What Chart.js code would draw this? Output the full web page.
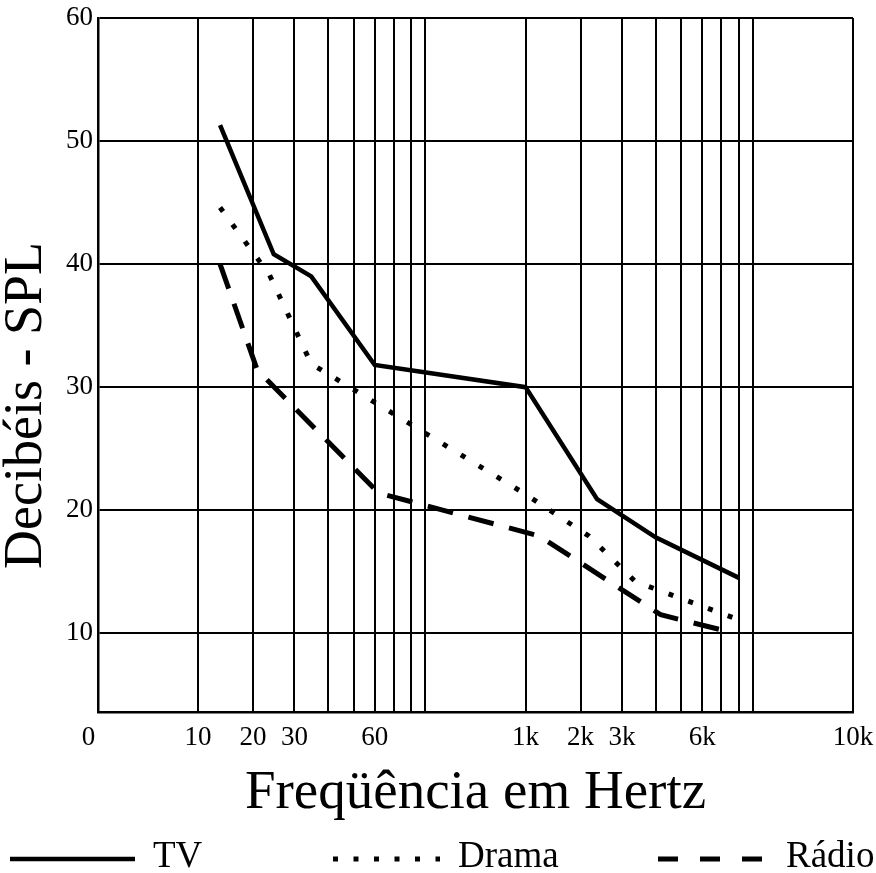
<!DOCTYPE html>
<html>
<head>
<meta charset="utf-8">
<title>Decibéis x Freqüência</title>
<script src="https://cdn.jsdelivr.net/npm/chart.js@4.4.1/dist/chart.umd.min.js"></script>
<style>
  html, body { margin: 0; padding: 0; background: #fff; }
  #wrap { width: 876px; height: 873px; }
</style>
</head>
<body>
<div id="wrap"><canvas id="chart"></canvas></div>
<script>
// frequency in Hz, level in dB SPL
const freqTV = [14, 25, 35, 60, 1000, 2400, 4000, 8000];
const dbTV = [51.3, 40.8, 39.0, 31.8, 30.0, 20.9, 17.8, 14.5];

const freqDrama = [14, 24, 35, 1000, 2200, 3400, 8000];
const dbDrama = [44.6, 39.1, 31.9, 21.3, 17.9, 14.2, 11.1];

const freqRadio = [14, 21, 62, 1250, 4200, 7500];
const dbRadio = [40.0, 31.4, 21.4, 17.9, 11.5, 10.1];

const seriesNames = ['TV', 'Drama', 'Rádio'];

// vertical grid lines (Hz) and the ones that carry a label
const xGrid = [0, 10, 20, 30, 40, 50, 60, 70, 80, 90, 1000, 2000, 3000, 4000, 5000, 6000, 7000, 8000, 9000, 10000];
const xLabeled = [0, 10, 20, 30, 60, 1000, 2000, 3000, 6000, 10000];
const xLabelText = ['0', '10', '20', '30', '60', '1k', '2k', '3k', '6k', '10k'];
const yGrid = [10, 20, 30, 40, 50, 60];

// the printed axis isn't a real log scale: both decades use the same drawn spacing,
// with an equal gap before 10, between 90 and 1k, and after 9k
const decadeSpacing = [0, 55, 96.3, 130, 155.6, 176.6, 195.6, 213.3, 227.3];
const gapWidth = 100;
const warpKnots = [[0, 0]];
[10, 1000].forEach((base, d) => {
    const start = gapWidth * (d + 1) + decadeSpacing[8] * d;
    decadeSpacing.forEach((off, k) => warpKnots.push([base * (k + 1), start + off]));
});
warpKnots.push([10000, warpKnots[warpKnots.length - 1][1] + gapWidth]);

function warp(v) {
    for (let i = 1; i < warpKnots.length; i++) {
        const [f0, p0] = warpKnots[i - 1], [f1, p1] = warpKnots[i];
        if (v <= f1) return p0 + (p1 - p0) * (v - f0) / (f1 - f0);
    }
    return warpKnots[warpKnots.length - 1][1];
}
function unwarp(p) {
    for (let i = 1; i < warpKnots.length; i++) {
        const [f0, p0] = warpKnots[i - 1], [f1, p1] = warpKnots[i];
        if (p <= p1) return f0 + (f1 - f0) * (p - p0) / (p1 - p0);
    }
    return warpKnots[warpKnots.length - 1][0];
}

class WarpScale extends Chart.LinearScale {
    static id = 'warp';
    getPixelForValue(value) {
        if (value === null || value === undefined) return NaN;
        const a = warp(this.min), b = warp(this.max);
        return this.getPixelForDecimal((warp(value) - a) / (b - a));
    }
    getValueForPixel(pixel) {
        const a = warp(this.min), b = warp(this.max);
        return unwarp(a + this.getDecimalForPixel(pixel) * (b - a));
    }
}
Chart.register(WarpScale);

const serif = "'Liberation Serif', 'Times New Roman', serif";

// legend drawn under the axis title: line sample + name
const legendStyle = {
    lineY: 859, textY: 867,
    lineX: [[10, 135], [333, 440], [658, 764]],
    textX: [153, 458, 786],
    dash: [[], [5, 15.5], [20, 22]]
};
const lineLegend = {
    id: 'lineLegend',
    afterDraw(chart) {
        const ctx = chart.ctx;
        ctx.save();
        chart.data.datasets.forEach((ds, i) => {
            ctx.beginPath();
            ctx.setLineDash(legendStyle.dash[i]);
            ctx.lineWidth = ds.borderWidth;
            ctx.strokeStyle = ds.borderColor;
            ctx.lineCap = 'butt';
            ctx.moveTo(legendStyle.lineX[i][0], legendStyle.lineY);
            ctx.lineTo(legendStyle.lineX[i][1], legendStyle.lineY);
            ctx.stroke();
            ctx.setLineDash([]);
            ctx.fillStyle = '#000';
            ctx.font = '37px ' + serif;
            ctx.textBaseline = 'alphabetic';
            ctx.textAlign = 'left';
            ctx.fillText(ds.label, legendStyle.textX[i], legendStyle.textY);
        });
        ctx.restore();
    }
};

const toPoints = (freqs, vals) => freqs.map((f, i) => ({ x: f, y: vals[i] }));

new Chart(document.getElementById('chart'), {
    type: 'line',
    data: {
        datasets: [
            { label: seriesNames[0], data: toPoints(freqTV, dbTV), borderColor: '#000', borderWidth: 4.5, pointRadius: 0, tension: 0 },
            { label: seriesNames[1], data: toPoints(freqDrama, dbDrama), borderColor: '#000', borderWidth: 5, borderDash: [5, 16], borderCapStyle: 'butt', pointRadius: 0, tension: 0 },
            { label: seriesNames[2], data: toPoints(freqRadio, dbRadio), borderColor: '#000', borderWidth: 5, borderDash: [26, 16], borderCapStyle: 'butt', pointRadius: 0, tension: 0 }
        ]
    },
    options: {
        responsive: true,
        maintainAspectRatio: false,
        animation: false,
        layout: { padding: { top: 18, right: 23, bottom: 48, left: 0 } },
        plugins: { legend: { display: false }, tooltip: { enabled: false } },
        scales: {
            x: {
                type: 'warp',
                min: 0,
                max: 10000,
                afterBuildTicks: axis => { axis.ticks = xGrid.map(v => ({ value: v })); },
                afterFit: axis => { axis.height = 113; axis.paddingLeft = 0; axis.paddingRight = 0; },
                grid: { color: '#000', lineWidth: 2, drawTicks: false },
                border: { color: '#000', width: 2.5 },
                ticks: {
                    autoSkip: false, maxRotation: 0, padding: 10, color: '#000',
                    font: { family: serif, size: 27 },
                    callback: v => {
                        const i = xLabeled.indexOf(v);
                        if (i < 0) return '';
                        // the corner "0" sits a little left of the axis line
                        return v === 0 ? xLabelText[i] + '\u2002\u2009' : xLabelText[i];
                    }
                },
                title: {
                    display: true, text: 'Freqüência em Hertz', color: '#000',
                    font: { family: serif, size: 55, lineHeight: 1 },
                    padding: { top: 0, bottom: 4 }
                }
            },
            y: {
                min: 3.6,
                max: 60,
                afterBuildTicks: axis => { axis.ticks = yGrid.map(v => ({ value: v })); },
                afterFit: axis => { axis.width = 98; axis.paddingTop = 0; axis.paddingBottom = 0; },
                grid: { color: '#000', lineWidth: 2, drawTicks: false },
                border: { color: '#000', width: 2.5 },
                ticks: { padding: 5, color: '#000', font: { family: serif, size: 27 } },
                title: {
                    display: true, text: 'Decibéis - SPL' + '\u2002'.repeat(3), color: '#000',
                    font: { family: serif, size: 54, lineHeight: 1 },
                    padding: { top: 0, bottom: 0 }
                }
            }
        }
    },
    plugins: [lineLegend]
});
</script>
</body>
</html>
